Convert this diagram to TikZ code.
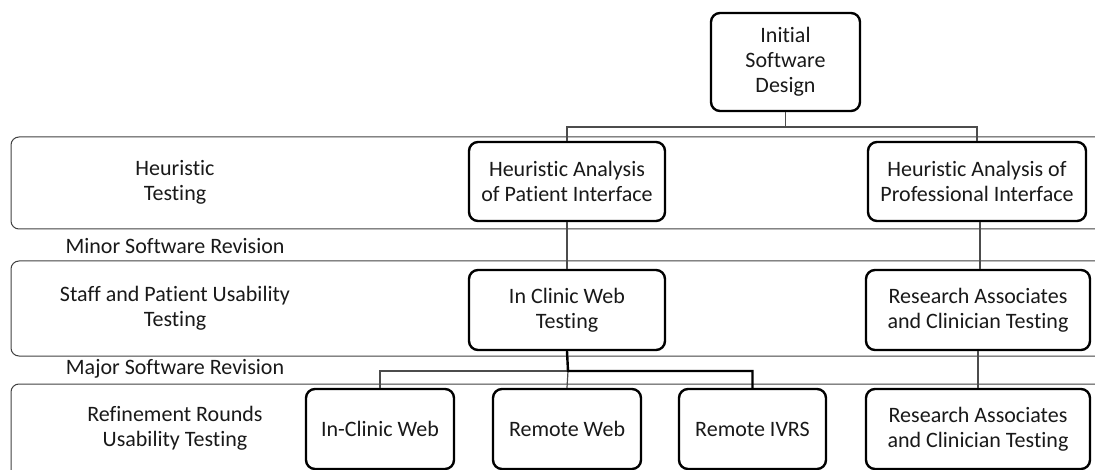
\documentclass[tikz,border=0pt]{standalone}
\usepackage{fontspec}
\setmainfont{Carlito}[Ligatures={NoCommon,NoRare}]
\begin{document}
\begin{tikzpicture}[x=1pt,y=-1pt,
  band/.style={draw=black!75,line width=1pt,rounded corners=8pt},
  stage/.style={draw=black,line width=2.4pt,rounded corners=9pt,fill=white,align=center,
    font=\fontsize{22}{25}\selectfont,text=black!90,inner sep=0pt},
  lbl/.style={align=center,font=\fontsize{22}{25}\selectfont,text=black!90},
  conn/.style={draw=black!70,line width=1.2pt},
  thick conn/.style={draw=black,line width=2.4pt}]
\useasboundingbox (0,0) rectangle (1095,470);
\clip (0,0) rectangle (1095,470);
% bands
\draw[band] (1120,137) -- (11,137) -- (11,229) -- (1120,229);
\draw[band] (1120,261) -- (11,261) -- (11,356) -- (1120,356);
\draw[band] (1120,384) -- (11,384) -- (11,500);
% band labels
\node[lbl] (l1) at (175,182) {Heuristic\\Testing};
\node[lbl] (r1) at (175,246) {Minor Software Revision};
\node[lbl] (l2) at (175,308) {Staff and Patient Usability\\Testing};
\node[lbl] (r2) at (175,369) {Major Software Revision};
\node[lbl] (l3) at (175,428) {Refinement Rounds\\Usability Testing};
% coordinates for connector corners
\coordinate (jA) at (786,127);
\coordinate (jB) at (568,371);
% stage boxes
\node[stage,minimum width=149pt,minimum height=98pt] (init) at (785.5,62) {Initial\\Software\\Design};
\node[stage,minimum width=196pt,minimum height=79pt] (hap) at (567,181.5) {Heuristic Analysis\\of Patient Interface};
\node[stage,minimum width=218pt,minimum height=79pt] (hapr) at (977,181.5) {Heuristic Analysis of\\Professional Interface};
\node[stage,minimum width=196pt,minimum height=80pt] (icw) at (567,310) {In Clinic Web\\Testing};
\node[stage,minimum width=224pt,minimum height=80pt] (ra1) at (978,310) {Research Associates\\and Clinician Testing};
\node[stage,minimum width=148pt,minimum height=80pt] (w1) at (380,429) {In-Clinic Web};
\node[stage,minimum width=148pt,minimum height=80pt] (w2) at (567,429) {Remote Web};
\node[stage,minimum width=147pt,minimum height=80pt] (w3) at (752.5,429) {Remote IVRS};
\node[stage,minimum width=224pt,minimum height=80pt] (ra2) at (978,429) {Research Associates\\and Clinician Testing};
% connectors
\draw[conn] (init.south) -- (init.south |- jA);
\draw[conn] (hap.north) -- (hap.north |- jA) -- (hapr.north |- jA) -- (hapr.north);
\draw[conn] (hap.south) -- (icw.north);
\draw[conn] ([xshift=3pt]hapr.south) -- ([xshift=3pt]hapr.south |- ra1.north);
\draw[conn] (ra1.south) -- (ra2.north);
\draw[conn] (w1.north) -- (w1.north |- jB) -- (jB);
\draw[conn] (jB) -- (w2.north);
\draw[thick conn] (icw.south) -- (jB) -- (jB -| w3.north) -- (w3.north);
\end{tikzpicture}
\end{document}
